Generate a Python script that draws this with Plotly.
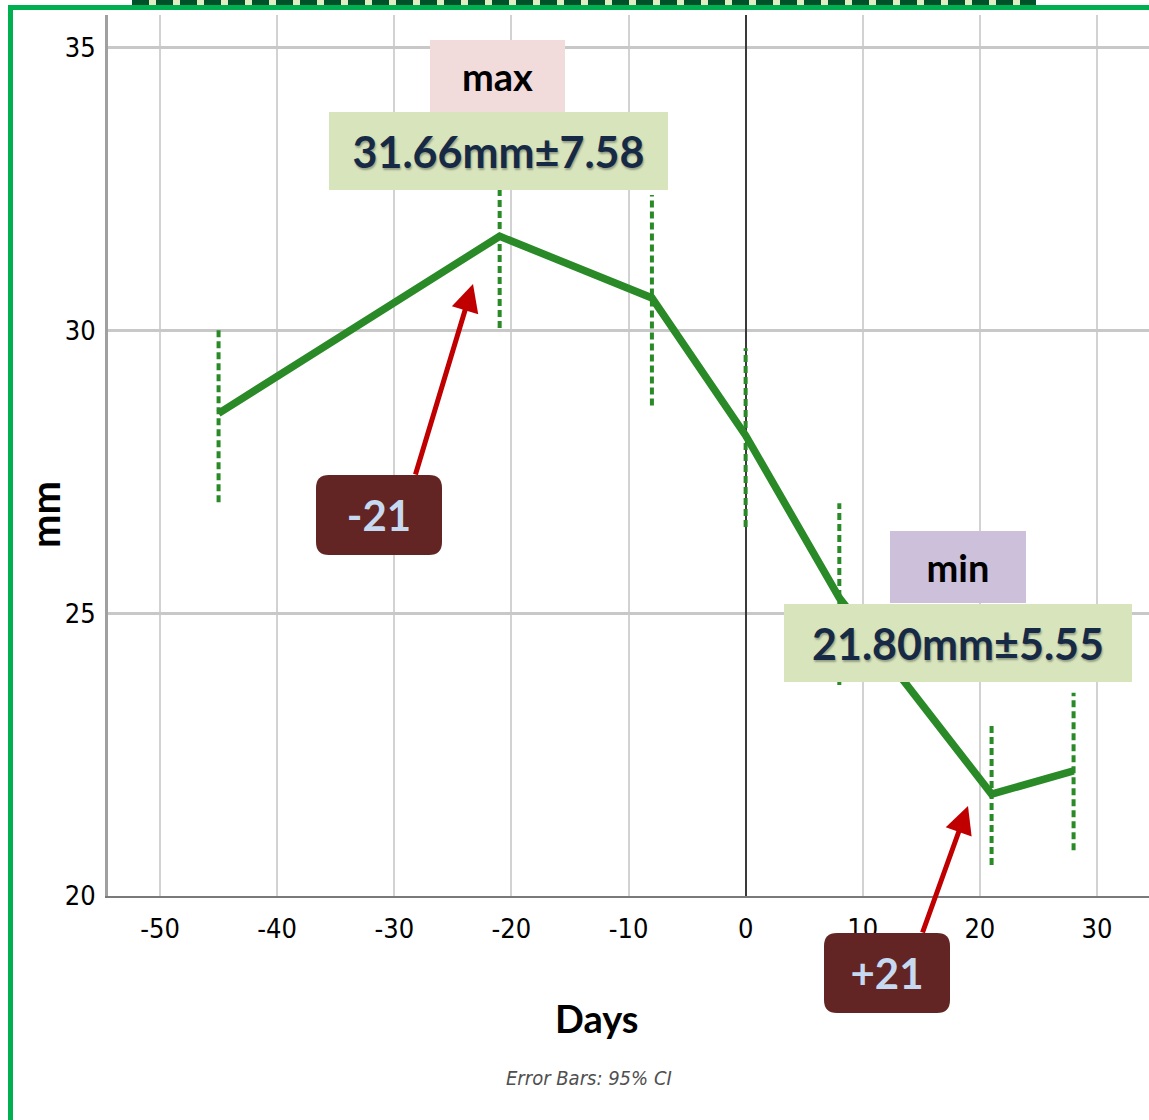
import plotly.graph_objects as go

# Mean measurement (mm) by day relative to day 0, with 95% CI bounds
days = [-45, -21, -8, 0, 8, 21, 28]
mean_mm = [28.53, 31.66, 30.57, 28.14, 25.27, 21.80, 22.21]
ci_low = [26.96, 30.04, 28.67, 26.52, 23.73, 20.55, 20.81]
ci_high = [30.05, 33.28, 32.39, 29.68, 26.94, 23.06, 23.59]

x_ticks = [-50, -40, -30, -20, -10, 0, 10, 20, 30]
y_ticks = [20, 25, 30, 35]

# Highlighted extremes: index into the series and the reported sd
max_idx, max_sd = 1, 7.58
min_idx, min_sd = 5, 5.55

W_FIG, H_FIG = 1149, 1120
L, R, T, B = 108, 1149, 15, 896


def px(x):
    return (x - L) / (R - L)


def py(y):
    return (B - y) / (B - T)


LINE_GREEN = "#2A8A27"
NUM_FONT = "Liberation Sans Narrow, DejaVu Sans Condensed, Arial Narrow, sans-serif"
LABEL_FONT = "Lato, Open Sans, sans-serif"

fig = go.Figure()

# dashed CI whiskers, one segment per day
ex, ey = [], []
for d, lo, hi in zip(days, ci_low, ci_high):
    ex += [d, d, None]
    ey += [lo, hi, None]
fig.add_trace(go.Scatter(x=ex, y=ey, mode="lines",
                         line=dict(color=LINE_GREEN, width=4, dash="7px,4px"),
                         hoverinfo="skip", showlegend=False))

fig.add_trace(go.Scatter(x=days, y=mean_mm, mode="lines",
                         line=dict(color=LINE_GREEN, width=7.5),
                         showlegend=False))

shapes = []
# page frame: dark dashed strip and green border
shapes.append(dict(type="rect", xref="paper", yref="paper",
                   x0=px(132), x1=px(1036), y0=py(5), y1=py(0),
                   fillcolor="#E4ECC4", line=dict(width=0), layer="above"))
shapes.append(dict(type="line", xref="paper", yref="paper",
                   x0=px(132), x1=px(1036), y0=py(2.5), y1=py(2.5),
                   line=dict(color="#00512A", width=5, dash="17px,7px"), layer="above"))
shapes.append(dict(type="line", xref="paper", yref="paper",
                   x0=px(8), x1=px(1149), y0=py(7.5), y1=py(7.5),
                   line=dict(color="#00B050", width=5), layer="above"))
shapes.append(dict(type="line", xref="paper", yref="paper",
                   x0=px(10.5), x1=px(10.5), y0=py(5), y1=py(1120),
                   line=dict(color="#00B050", width=5), layer="above"))


def rounded_box(cx, cy, hw, hh, r):
    p = (f"M {-hw + r},{-hh} L {hw - r},{-hh} Q {hw},{-hh} {hw},{-hh + r} "
         f"L {hw},{hh - r} Q {hw},{hh} {hw - r},{hh} L {-hw + r},{hh} "
         f"Q {-hw},{hh} {-hw},{hh - r} L {-hw},{-hh + r} Q {-hw},{-hh} {-hw + r},{-hh} Z")
    return dict(type="path", xref="paper", yref="paper",
                xsizemode="pixel", ysizemode="pixel",
                xanchor=px(cx), yanchor=py(cy), path=p,
                fillcolor="#632523", line=dict(width=0), layer="above")


shapes.append(rounded_box(379, 515, 63, 40, 13))
shapes.append(rounded_box(887, 973, 63, 40, 13))

annotations = []


def box_label(text, cx, cy, w, h, bg, size, color, shadow=None):
    font = dict(family=LABEL_FONT, size=size, color=color, weight="bold")
    if shadow:
        font["shadow"] = shadow
    return dict(text=text, xref="paper", yref="paper", x=px(cx), y=py(cy),
                xanchor="center", yanchor="middle", showarrow=False,
                width=w, height=h, bgcolor=bg, borderpad=0, borderwidth=0,
                font=font)


SHADOW = "1px 2px 2px rgba(0,0,0,0.30)"
annotations.append(box_label("max", 497.5, 76, 135, 72, "#F2DCDB", 38, "#000000"))
annotations.append(box_label(f"{mean_mm[max_idx]:.2f}mm±{max_sd:.2f}", 498.5, 151, 339, 78,
                             "#D7E4BC", 43, "#172A45", SHADOW))
annotations.append(box_label("min", 958, 567, 136, 72, "#CCC0DA", 38, "#000000"))
annotations.append(box_label(f"{mean_mm[min_idx]:.2f}mm±{min_sd:.2f}", 958, 643, 348, 78,
                             "#D7E4BC", 43, "#172A45", SHADOW))

annotations.append(box_label(f"{days[max_idx]}", 379, 515, 126, 80, "rgba(0,0,0,0)", 42, "#C6D9F1"))
annotations.append(box_label(f"+{days[min_idx]}", 887, 973, 126, 80, "rgba(0,0,0,0)", 42, "#C6D9F1"))

# red pointers from the day tags toward the extremes
for (hx, hy, tx, ty) in [(473, 284, 415, 476), (968, 806, 922, 934)]:
    annotations.append(dict(text="", xref="paper", yref="paper", x=px(hx), y=py(hy),
                            ax=tx - hx, ay=ty - hy, showarrow=True,
                            arrowhead=2, arrowsize=1.1, arrowwidth=5,
                            arrowcolor="#C00000"))

# axis titles and footnote
annotations.append(dict(text="Days", xref="paper", yref="paper", x=px(597), y=py(1018),
                        xanchor="center", yanchor="middle", showarrow=False,
                        font=dict(family=LABEL_FONT, size=38, color="#000000", weight="bold")))
annotations.append(dict(text="mm", xref="paper", yref="paper", x=px(45), y=py(515),
                        xanchor="center", yanchor="middle", showarrow=False, textangle=-90,
                        font=dict(family=LABEL_FONT, size=40, color="#000000", weight="bold")))
annotations.append(dict(text="Error Bars: 95% CI", xref="paper", yref="paper",
                        x=px(589), y=py(1078), xanchor="center", yanchor="middle",
                        showarrow=False,
                        font=dict(family="DejaVu Sans Condensed, sans-serif", size=20,
                                  color="#505050", style="italic")))

fig.update_layout(
    width=W_FIG, height=H_FIG,
    margin=dict(l=L, r=W_FIG - R, t=T, b=H_FIG - B),
    paper_bgcolor="white", plot_bgcolor="white",
    shapes=shapes, annotations=annotations,
    xaxis=dict(range=[-54.44, 34.44], tickvals=x_ticks, ticktext=[str(v) for v in x_ticks],
               showgrid=True, gridcolor="#D2D2D2", gridwidth=2,
               zeroline=True, zerolinecolor="#3A3A3A", zerolinewidth=2,
               showline=True, linecolor="#7A7A7A", linewidth=2,
               ticks="", ticklabelstandoff=8,
               tickfont=dict(family="DejaVu Sans Condensed, sans-serif", size=27, color="#000000")),
    yaxis=dict(range=[20, 35.57], tickvals=y_ticks, ticktext=[str(v) for v in y_ticks],
               showgrid=True, gridcolor="#C8C8C8", gridwidth=2.5,
               zeroline=False,
               showline=True, linecolor="#A0A0A0", linewidth=3,
               ticks="", ticklabelstandoff=4,
               tickfont=dict(family="DejaVu Sans Condensed, sans-serif", size=27, color="#000000")),
)

fig.write_html("out.html")
